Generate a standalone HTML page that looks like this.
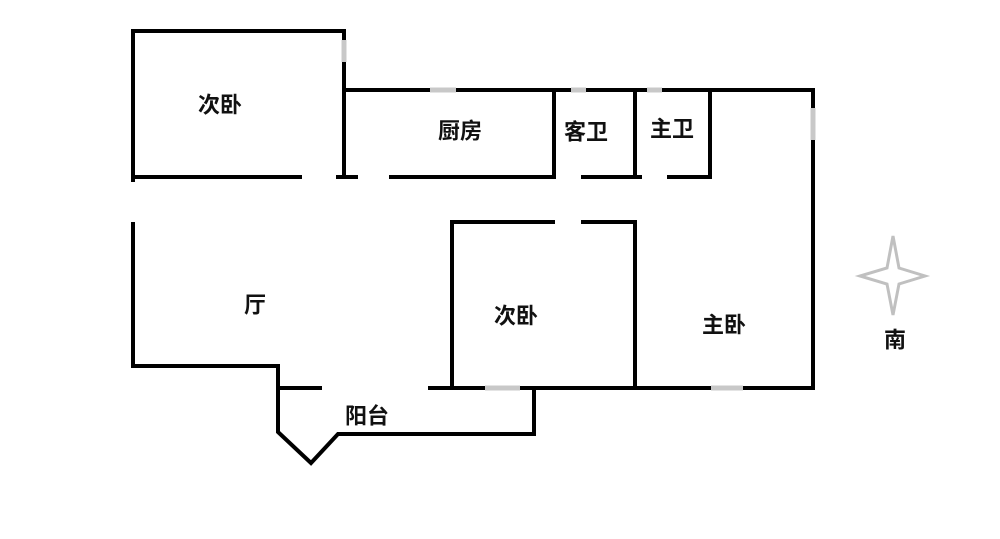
<!DOCTYPE html>
<html><head><meta charset="utf-8"><style>
body{margin:0;background:#fff}
svg text{font-family:"Liberation Sans","Noto Sans CJK SC",sans-serif;font-size:22px;font-weight:bold;fill:#111;text-anchor:middle;dominant-baseline:central}
</style></head><body>
<svg width="1000" height="534" viewBox="0 0 1000 534">
<g stroke="#000" stroke-width="4" fill="none" stroke-linecap="square">
<polyline points="133,180 133,31 344,31 344,177"/>
<line x1="133" y1="177" x2="300" y2="177"/>
<line x1="338" y1="177" x2="356" y2="177"/>
<line x1="391" y1="177" x2="554" y2="177"/>
<line x1="583" y1="177" x2="640" y2="177"/>
<line x1="669" y1="177" x2="708" y2="177"/>
<polyline points="344,90 813,90 813,388 430,388"/>
<line x1="554" y1="90" x2="554" y2="177"/>
<line x1="635" y1="90" x2="635" y2="177"/>
<line x1="710" y1="90" x2="710" y2="177"/>
<polyline points="133,224 133,366 278,366 278,388 320,388"/>
<polyline points="553,222 452,222 452,388"/>
<polyline points="583,222 635,222 635,388"/>
<polyline points="278,388 278,432 311,463 338,434 534,434 534,388"/>
</g>
<g stroke="#c8c8c8" stroke-width="5">
<line x1="344" y1="40" x2="344" y2="62"/>
<line x1="430" y1="90" x2="456" y2="90"/>
<line x1="571" y1="90" x2="586" y2="90"/>
<line x1="647" y1="90" x2="662" y2="90"/>
<line x1="813" y1="108" x2="813" y2="140"/>
<line x1="485" y1="388" x2="520" y2="388"/>
<line x1="711" y1="388" x2="743" y2="388"/>
</g>
<path d="M893,236 L899,268 L925,276 L899,284 L893,315 L887,284 L860,276 L887,268 Z" fill="none" stroke="#c0c0c0" stroke-width="3"/>
<text x="220" y="105">次卧</text>
<text x="460" y="131">厨房</text>
<text x="586" y="132">客卫</text>
<text x="672" y="129">主卫</text>
<text x="255" y="305">厅</text>
<text x="516" y="316">次卧</text>
<text x="724" y="325">主卧</text>
<text x="367" y="416">阳台</text>
<text x="895" y="340">南</text>
</svg>
</body></html>
